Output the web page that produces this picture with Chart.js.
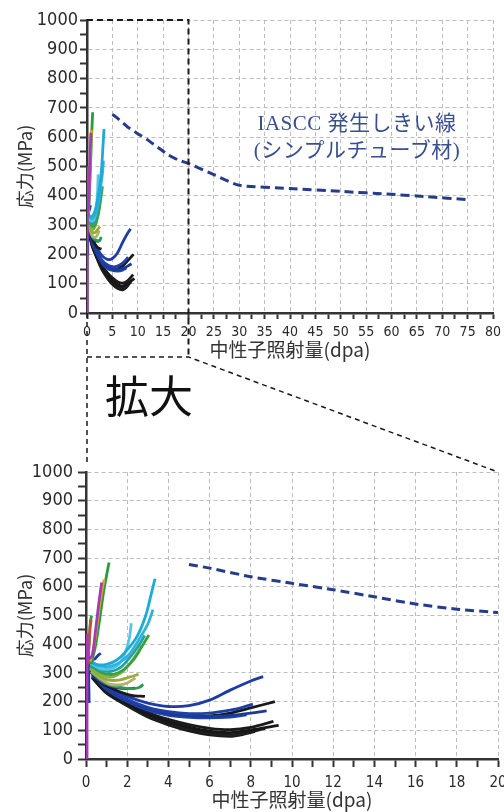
<!DOCTYPE html>
<html>
<head>
<meta charset="utf-8">
<script src="https://cdn.jsdelivr.net/npm/chart.js@4.4.1/dist/chart.umd.min.js"></script>
<style>
    html, body { margin: 0; padding: 0; background: #fff; }
    #wrap { position: relative; width: 504px; height: 812px; overflow: hidden; }
    #topChart { position: absolute; left: 0; top: 0; }
    #bottomChart { position: absolute; left: 0; top: 450px; }
    #overlay { position: absolute; left: 0; top: 0; pointer-events: none; }
    #iascc {
        position: absolute; left: 207px; top: 110px; width: 300px;
        text-align: center; color: #3a4f8f; font-size: 21px; line-height: 27px;
        font-family: "Liberation Serif", "DejaVu Serif", "Noto Sans CJK JP", serif;
        letter-spacing: 0.5px;
    }
    #zoomLabel {
        position: absolute; left: 105px; top: 372px; font-size: 44px; line-height: 1;
        font-family: "Noto Sans CJK JP", sans-serif; color: #111;
    }
</style>
</head>
<body>
<div id="wrap">
    <canvas id="topChart" width="504" height="362"></canvas>
    <canvas id="bottomChart" width="504" height="362"></canvas>
    <canvas id="overlay" width="504" height="812"></canvas>
    <div id="iascc">IASCC 発生しきい線<br>(シンプルチューブ材)</div>
    <div id="zoomLabel">拡大</div>
</div>
<script>
// IASCC threshold line (dpa, MPa)
const thresholdLine = [[5, 678], [6, 665], [8, 635], [10, 612], [12, 590], [14, 565], [16, 540], [18, 522],
    [20, 510], [25, 472], [30, 436], [40, 425], [50, 415], [60, 405], [67, 397], [75, 387]];

// Stress curves per specimen (dpa, MPa)
const purple = [[0.05, 0], [0.06, 430], [0.12, 350], [0.3, 360], [0.45, 440], [0.6, 530], [0.76, 615]];
const redBrown = [[0.08, 330], [0.15, 400], [0.2, 460], [0.25, 485]];
const greenShort = [[0.1, 330], [0.16, 420], [0.22, 480], [0.27, 500]];
const orange = [[0.2, 340], [0.35, 380], [0.5, 450], [0.65, 530], [0.78, 590], [0.88, 625]];
const greenTall = [[0.25, 330], [0.45, 390], [0.65, 480], [0.85, 580], [1.0, 640], [1.12, 685]];
const cyan1 = [[0.15, 345], [0.5, 330], [1.0, 330], [1.5, 345], [2.0, 380], [2.5, 430], [2.9, 500], [3.15, 570], [3.35, 628]];
const cyan2 = [[0.2, 340], [0.6, 325], [1.1, 322], [1.6, 335], [2.1, 365], [2.6, 420], [3.0, 470], [3.25, 520]];
const ltCyan = [[0.2, 335], [0.7, 315], [1.2, 315], [1.6, 330], [1.9, 370], [2.1, 420], [2.2, 473]];
const teal = [[0.2, 330], [0.7, 310], [1.2, 305], [1.7, 320], [2.2, 360], [2.6, 400], [2.85, 430]];
const green2 = [[0.2, 325], [0.8, 300], [1.3, 295], [1.8, 310], [2.3, 345], [2.7, 390], [3.05, 432]];
const yellowGreen = [[0.2, 320], [0.7, 295], [1.2, 285], [1.7, 300], [2.1, 330], [2.5, 370], [2.7, 395]];
const olive = [[0.2, 315], [0.6, 290], [1.1, 275], [1.6, 275], [2.1, 285], [2.55, 295]];
const khaki = [[0.25, 305], [0.7, 280], [1.1, 262], [1.6, 258], [2.0, 265], [2.4, 282]];
const green3 = [[0.3, 300], [0.8, 270], [1.3, 255], [1.8, 248], [2.3, 245], [2.6, 250], [2.78, 260]];
const navyStub = [[0.3, 290], [0.9, 262], [1.5, 248], [2.0, 245], [2.38, 247]];
const blackStub = [[0.35, 285], [1.0, 255], [1.6, 235], [2.2, 222], [2.86, 218]];
const blueHook = [[0.15, 195], [0.15, 330], [0.3, 345], [0.45, 350], [0.6, 362], [0.72, 368]];
const blue1 = [[0.2, 320], [0.6, 285], [1, 255], [1.5, 235], [2, 218], [3, 195], [4, 183], [5, 186], [6, 205], [7, 240], [8, 272], [8.6, 287]];
const blue2 = [[0.2, 315], [1, 250], [2, 208], [3, 180], [4, 165], [5, 158], [6, 160], [7, 170], [7.6, 180], [8.1, 191]];
const blue3 = [[0.2, 310], [1, 245], [2, 203], [3, 175], [4, 158], [5, 150], [6, 148], [7, 152], [8, 160], [8.77, 168]];
const blue4 = [[0.2, 305], [1, 242], [2, 200], [3, 170], [4, 152], [5, 145], [6, 143], [7, 146], [7.8, 154]];
const blackTop = [[0.3, 295], [1, 240], [2, 200], [3, 170], [4, 155], [5, 148], [6, 150], [7, 160], [8, 178], [9.17, 200]];
const black1 = [[0.3, 290], [1, 238], [2, 197], [3, 162], [4, 138], [5, 120], [6, 107], [7, 102], [8, 110], [9.1, 131]];
const black2 = [[0.3, 288], [1, 235], [2, 193], [3, 156], [4, 131], [5, 111], [6, 97], [7, 92], [8, 101], [9.35, 117]];
const black3 = [[0.3, 285], [1, 232], [2, 188], [3, 150], [4, 124], [5, 104], [6, 90], [7, 84], [7.9, 93], [8.7, 107]];
const black4 = [[0.3, 283], [1, 229], [2, 185], [3, 146], [4, 119], [5, 98], [6, 84], [7, 79], [7.6, 85], [8.2, 96]];

// first entries are drawn on top
const curves = [purple, redBrown, greenShort, orange, greenTall, cyan1, cyan2, ltCyan, teal, green2,
    yellowGreen, olive, khaki, green3, navyStub, blackStub, blueHook,
    blue1, blue2, blue3, blue4, blackTop, black1, black2, black3, black4];
const curveColors = ['#a23cb4', '#c4502c', '#2f9a3c', '#e8a030', '#2e9a3e', '#1eaad6', '#2cb4dc', '#56c6e4', '#22a2a8', '#3aa040',
    '#88b048', '#9aaa3a', '#b4b070', '#2a9a50', '#1c2e90', '#1a1a1a', '#1c3ca0',
    '#1c3ca8', '#1e40a8', '#1a3a9c', '#2046a8', '#1a1a1a', '#1a1a1a', '#161616', '#1e1e1e', '#1a1a1a'];

const tickFont = '"DejaVu Sans Condensed", "Liberation Sans Narrow", "DejaVu Sans", sans-serif';
const cjkFont = '"Noto Sans CJK JP", sans-serif';
const gridGray = '#bdbdbd';

function buildDatasets() {
    const sets = curves.map((pts, i) => ({
        data: pts,
        borderColor: curveColors[i],
        borderWidth: 2.8,
        pointRadius: 0,
        tension: 0.3,
        fill: false
    }));
    sets.unshift({
        data: thresholdLine,
        borderColor: '#263c8a',
        borderWidth: 3,
        borderDash: [9, 5],
        pointRadius: 0,
        tension: 0.2,
        fill: false
    });
    return sets;
}

function makeOptions(cfg) {
    return {
        responsive: false,
        animation: false,
        events: [],
        layout: { padding: { top: cfg.padTop, right: cfg.padRight, left: 0, bottom: 0 } },
        plugins: { legend: { display: false }, tooltip: { enabled: false } },
        scales: {
            x: {
                type: 'linear', min: 0, max: cfg.xMax,
                ticks: {
                    stepSize: cfg.xStep, autoSkip: false, maxRotation: 0, padding: cfg.xTickPad, color: '#2a2a2a',
                    font: { family: tickFont, size: cfg.xTickSize },
                    callback: v => (v % cfg.xLabelEvery === 0 ? v : '')
                },
                grid: {
                    color: c => (c.tick && c.tick.value % cfg.xLabelEvery === 0 ? gridGray : 'rgba(0,0,0,0)'),
                    tickColor: '#333', tickLength: cfg.xTickLen, tickWidth: 2, lineWidth: 1
                },
                border: { color: '#333', width: 2.5, dash: [4, 3] },
                title: {
                    display: true, text: '中性子照射量(dpa)', color: '#333',
                    font: { family: cjkFont, size: 19 }, padding: { top: 0, bottom: 1 }
                },
                afterFit: s => { s.height = cfg.xHeight; s.paddingLeft = 0; s.paddingRight = 0; }
            },
            y: {
                type: 'linear', min: 0, max: 1000,
                ticks: {
                    stepSize: 50, autoSkip: false, padding: cfg.yTickPad, color: '#2a2a2a',
                    font: { family: tickFont, size: 18 },
                    callback: v => (v % 100 === 0 ? v : '')
                },
                grid: {
                    color: c => (c.tick && c.tick.value % 100 === 0 ? gridGray : 'rgba(0,0,0,0)'),
                    tickColor: '#333', tickLength: cfg.yTickLen, tickWidth: 2, lineWidth: 1
                },
                border: { color: '#333', width: 2.5, dash: [4, 3] },
                title: {
                    display: true, text: '応力(MPa)', color: '#333',
                    font: { family: cjkFont, size: 18 }, padding: { top: 14, bottom: 0 }
                },
                afterFit: s => { s.width = cfg.yWidth; s.paddingTop = 0; s.paddingBottom = 0; }
            }
        }
    };
}

const topChart = new Chart(document.getElementById('topChart').getContext('2d'), {
    type: 'line',
    data: { datasets: buildDatasets() },
    options: makeOptions({
        xMax: 80, xStep: 2.5, xLabelEvery: 5, xTickSize: 14, xTickPad: 5, xTickLen: 6, xHeight: 49,
        yWidth: 87, yTickLen: 7, yTickPad: 2, padTop: 20, padRight: 11
    })
});

const bottomChart = new Chart(document.getElementById('bottomChart').getContext('2d'), {
    type: 'line',
    data: { datasets: buildDatasets() },
    options: makeOptions({
        xMax: 20, xStep: 1, xLabelEvery: 2, xTickSize: 15, xTickPad: 7, xTickLen: 8, xHeight: 53,
        yWidth: 86, yTickLen: 8, yTickPad: 5, padTop: 22, padRight: 6
    })
});

// Dashed zoom box and connector lines between the two charts
function drawConnectors() {
    const ctx = document.getElementById('overlay').getContext('2d');
    const tx = topChart.scales.x, ty = topChart.scales.y;
    const bx = bottomChart.scales.x, by = bottomChart.scales.y;
    const bOff = 450;
    const x0 = tx.getPixelForValue(0), x20 = tx.getPixelForValue(20);
    const yTop = ty.getPixelForValue(1000), yBase = ty.getPixelForValue(0);
    const yLink = yBase + 44;
    const bRight = bx.getPixelForValue(20), bTop = by.getPixelForValue(1000) + bOff;

    ctx.strokeStyle = '#1a1a1a';
    ctx.lineWidth = 2;
    ctx.setLineDash([6, 4]);
    ctx.beginPath();
    ctx.moveTo(x0, yTop);
    ctx.lineTo(x20, yTop);
    ctx.lineTo(x20, yLink);
    ctx.stroke();

    ctx.lineWidth = 1.5;
    ctx.setLineDash([5, 4]);
    ctx.beginPath();
    ctx.moveTo(x0, yBase);
    ctx.lineTo(x0, bTop - 10);
    ctx.moveTo(x0, yLink);
    ctx.lineTo(x20, yLink);
    ctx.lineTo(bRight, bTop);
    ctx.stroke();
}
drawConnectors();
</script>
</body>
</html>
